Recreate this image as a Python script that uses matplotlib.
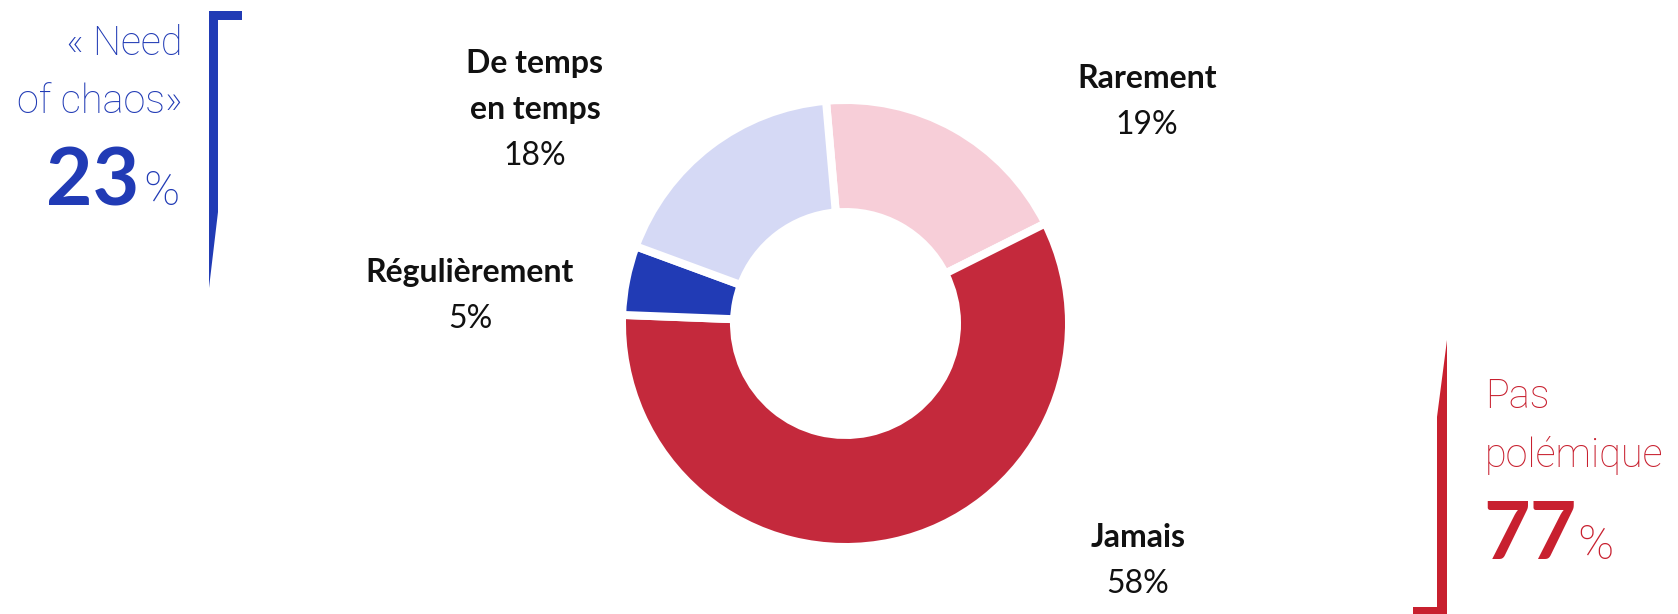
"""
Donut chart: frequency of sharing polemical content, with two summary brackets.
"""
import matplotlib as mpl
mpl.use("Agg")
import matplotlib.pyplot as plt

# data
categories = ["Rarement", "Jamais", "Régulièrement", "De temps\nen temps"]
values = [19, 58, 5, 18]
wedge_colors = ["#F7CED8", "#C4293C", "#213BB5", "#D5D9F5"]
summary_labels = ["« Need\nof chaos»", "Pas\npolémique"]
summary_values = [23, 77]

BLUE = "#213BB5"
RED = "#C8202F"
W, H = 1678, 614
FONT = "Lato"
THIN = "Roboto"


def Y(y_px):
    # pixel rows (top-down) to data y (bottom-up)
    return H - y_px


fig = plt.figure(figsize=(W / 100, H / 100), dpi=100)
ax = fig.add_axes([0, 0, 1, 1])

# Donut; white edges make the gaps, so the geometry is a bit larger
gap = 8
ax.pie(values, colors=wedge_colors, startangle=95, counterclock=False,
       center=(845.5, Y(323.5)), radius=219.5 + gap / 2, frame=True,
       wedgeprops=dict(width=104 + gap, edgecolor="white", linewidth=gap * 0.72))
ax.set_xlim(0, W)
ax.set_ylim(0, H)
ax.set_aspect("equal")
ax.set_axis_off()

# category labels: (x centre, baseline of first line)
label_pos = [(1147, 88), (1138, 547), (470, 282), (535, 73)]
step = 46
for name, v, (x, y0) in zip(categories, values, label_pos):
    lines = name.split("\n")
    for i, ln in enumerate(lines):
        ax.text(x, Y(y0 + i * step), ln, ha="center", va="baseline",
                fontsize=23, fontweight="bold", family=FONT, color="#111111")
    ax.text(x, Y(y0 + len(lines) * step), f"{v}%", ha="center", va="baseline",
            fontsize=23, family=FONT, color="#111111")

# left summary
l1, l2 = summary_labels[0].split("\n")
ax.text(182, Y(55), l1, ha="right", va="baseline", fontsize=28.5,
        fontweight="light", family=THIN, color=BLUE)
ax.text(182, Y(113), l2, ha="right", va="baseline", fontsize=28.5,
        fontweight="light", family=THIN, color=BLUE)
ax.text(139, Y(205), f"{summary_values[0]}", ha="right", va="baseline",
        fontsize=58, fontweight="bold", family=FONT, color=BLUE)
ax.text(143, Y(205), "%", ha="left", va="baseline", fontsize=35,
        fontweight="light", family=THIN, color=BLUE)
bx = [209, 242, 242, 218, 218, 209]
by = [11, 11, 20, 20, 212, 288]
ax.fill(bx, [Y(v) for v in by], color=BLUE, lw=0)

# right summary
r1, r2 = summary_labels[1].split("\n")
ax.text(1485, Y(408), r1, ha="left", va="baseline", fontsize=28.5,
        fontweight="light", family=THIN, color=RED)
ax.text(1485, Y(467), r2, ha="left", va="baseline", fontsize=28.5,
        fontweight="light", family=THIN, color=RED)
ax.text(1483, Y(559), f"{summary_values[1]}", ha="left", va="baseline",
        fontsize=58, fontweight="bold", family=FONT, color=RED)
ax.text(1577, Y(559), "%", ha="left", va="baseline", fontsize=35,
        fontweight="light", family=THIN, color=RED)
rx = [1447, 1447, 1413, 1413, 1437, 1437]
ry = [340, 614, 614, 607, 607, 417]
ax.fill(rx, [Y(v) for v in ry], color=RED, lw=0)

fig.savefig("out.png", dpi=100, facecolor="white")
plt.close(fig)
